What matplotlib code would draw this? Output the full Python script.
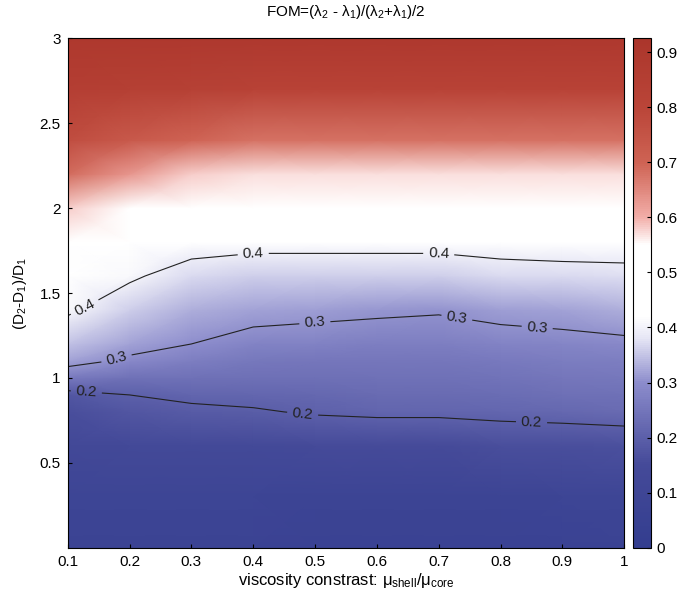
"""
FOM map over viscosity contrast and normalised diameter ratio,
with iso-FOM contours at 0.2 / 0.3 / 0.4.

Output: out.png
"""

import numpy as np
import matplotlib.pyplot as plt
import matplotlib as mpl
from matplotlib.colors import LinearSegmentedColormap

mpl.rcParams.update({
    'font.family':        'Liberation Sans',
    'font.size':          11,
    'mathtext.fontset':   'custom',
    'mathtext.rm':        'Liberation Sans',
    'mathtext.it':        'Liberation Sans',
    'axes.linewidth':     0.8,
})

# viscosity contrast (columns) and (D2-D1)/D1 (rows)
visc = [0.1, 0.2, 0.3, 0.4, 0.5, 0.6, 0.7, 0.8, 0.9, 1.0]
dratio = [0.0, 0.3, 0.6, 0.8, 0.9, 1.0, 1.1, 1.2, 1.4, 1.6, 1.8,
          2.0, 2.2, 2.4, 2.7, 3.0]

# FOM per row of dratio, one value per viscosity column
fom = [
    [0.07, 0.07, 0.07, 0.07, 0.06, 0.06, 0.06, 0.06, 0.06, 0.07],    # 0.0
    [0.09, 0.09, 0.09, 0.09, 0.08, 0.08, 0.08, 0.08, 0.09, 0.09],    # 0.3
    [0.13, 0.14, 0.14, 0.14, 0.15, 0.15, 0.15, 0.16, 0.16, 0.165],   # 0.6
    [0.16, 0.18, 0.19, 0.195, 0.205, 0.21, 0.21, 0.215, 0.22, 0.225],  # 0.8
    [0.18, 0.20, 0.21, 0.215, 0.22, 0.225, 0.225, 0.23, 0.235, 0.24],  # 0.9
    [0.26, 0.24, 0.24, 0.235, 0.235, 0.24, 0.24, 0.245, 0.25, 0.255],  # 1.0
    [0.32, 0.29, 0.27, 0.255, 0.25, 0.25, 0.25, 0.26, 0.265, 0.27],    # 1.1
    [0.35, 0.32, 0.30, 0.28, 0.275, 0.27, 0.27, 0.28, 0.285, 0.29],    # 1.2
    [0.41, 0.36, 0.33, 0.32, 0.315, 0.31, 0.305, 0.315, 0.32, 0.33],   # 1.4
    [0.47, 0.41, 0.37, 0.36, 0.36, 0.36, 0.36, 0.37, 0.37, 0.375],     # 1.6
    [0.51, 0.46, 0.43, 0.42, 0.42, 0.42, 0.42, 0.43, 0.44, 0.44],      # 1.8
    [0.58, 0.53, 0.50, 0.49, 0.50, 0.50, 0.50, 0.51, 0.51, 0.51],      # 2.0
    [0.69, 0.63, 0.58, 0.57, 0.57, 0.57, 0.57, 0.57, 0.57, 0.57],      # 2.2
    [0.77, 0.73, 0.70, 0.68, 0.68, 0.68, 0.68, 0.68, 0.68, 0.68],      # 2.4
    [0.85, 0.84, 0.83, 0.82, 0.82, 0.82, 0.82, 0.82, 0.82, 0.82],      # 2.7
    [0.90, 0.90, 0.90, 0.90, 0.90, 0.90, 0.90, 0.90, 0.90, 0.90],      # 3.0
]

levels = [0.2, 0.3, 0.4]
cbar_ticks = [0, 0.1, 0.2, 0.3, 0.4, 0.5, 0.6, 0.7, 0.8, 0.9]

vmax = 0.925
stops = [
    (0.00, (0.20, 0.24, 0.56)),
    (0.15, (0.27, 0.29, 0.60)),
    (0.30, (0.55, 0.55, 0.80)),
    (0.38, (0.90, 0.90, 0.96)),
    (0.42, (1.00, 1.00, 1.00)),
    (0.55, (1.00, 1.00, 1.00)),
    (0.60, (0.95, 0.68, 0.66)),
    (0.70, (0.81, 0.39, 0.33)),
    (0.80, (0.73, 0.27, 0.22)),
    (vmax, (0.67, 0.21, 0.17)),
]
cmap = LinearSegmentedColormap.from_list(
    'fom', [(v / vmax, c) for v, c in stops])

X, Y = np.meshgrid(visc, dratio)
Z = np.array(fom)

fig = plt.figure(figsize=(6.77, 5.98), dpi=100)
ax = fig.add_axes([0.100, 0.084, 0.822, 0.852])
cax = fig.add_axes([0.935, 0.084, 0.027, 0.852])

mesh = ax.pcolormesh(X, Y, Z, cmap=cmap, vmin=0, vmax=vmax,
                     shading='gouraud', rasterized=True)
cs = ax.contour(X, Y, Z, levels=levels, colors='#222222', linewidths=0.8)

label_pos = [(0.13, 1.40), (0.40, 1.75), (0.70, 1.73),
             (0.18, 1.10), (0.50, 1.31), (0.73, 1.37), (0.86, 1.33),
             (0.13, 0.91), (0.48, 0.79), (0.85, 0.72)]
ax.clabel(cs, fmt='%.1f', fontsize=11, manual=label_pos, inline=True)

ax.set_xlim(0.1, 1)
ax.set_ylim(0, 3)
ax.set_xticks([0.1, 0.2, 0.3, 0.4, 0.5, 0.6, 0.7, 0.8, 0.9, 1])
ax.set_xticklabels(['0.1', '0.2', '0.3', '0.4', '0.5', '0.6', '0.7',
                    '0.8', '0.9', '1'])
ax.set_yticks([0.5, 1, 1.5, 2, 2.5, 3])
ax.set_yticklabels(['0.5', '1', '1.5', '2', '2.5', '3'])
ax.tick_params(direction='in', length=3, labelsize=11, pad=5)

ax.set_title(r'FOM=($\lambda_2$ - $\lambda_1$)/($\lambda_2$+$\lambda_1$)/2',
             fontsize=11, pad=16)
ax.set_xlabel(r'viscosity constrast: $\mu_{shell}$/$\mu_{core}$',
              fontsize=12, labelpad=2)
ax.set_ylabel(r'(D$_2$-D$_1$)/D$_1$', fontsize=11, labelpad=8)

cb = fig.colorbar(mesh, cax=cax, ticks=cbar_ticks)
cb.ax.set_yticklabels(['0', '0.1', '0.2', '0.3', '0.4', '0.5', '0.6',
                       '0.7', '0.8', '0.9'])
cb.ax.tick_params(direction='in', length=3, labelsize=11)
cb.outline.set_linewidth(0.8)

fig.savefig('out.png', dpi=100)
